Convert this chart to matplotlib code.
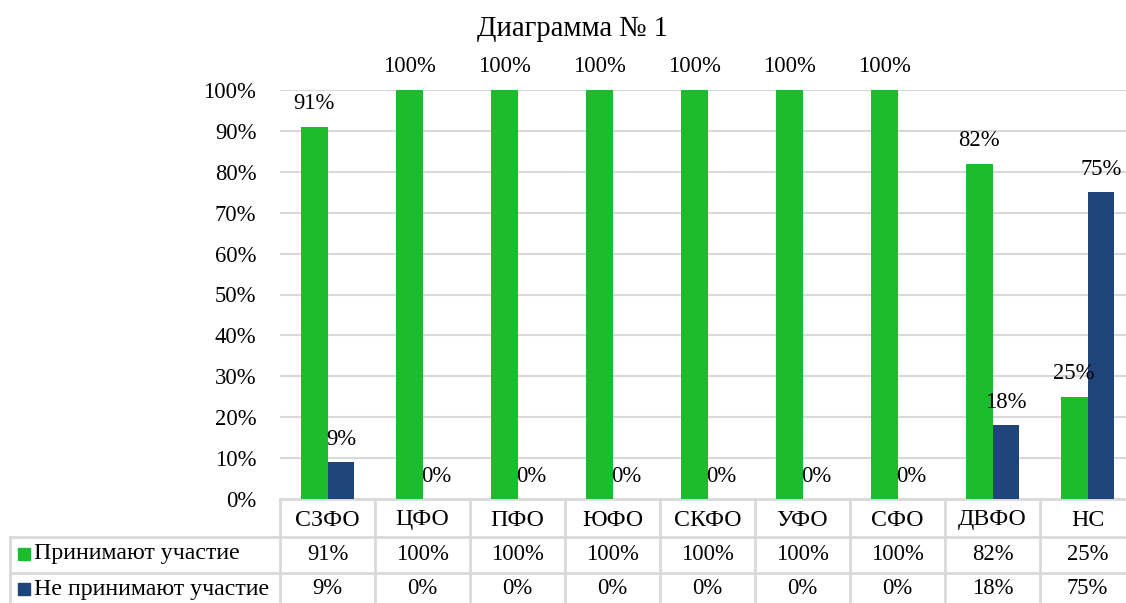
import matplotlib
matplotlib.use("Agg")
import matplotlib.pyplot as plt
import numpy as np

categories = ["СЗФО", "ЦФО", "ПФО", "ЮФО", "СКФО", "УФО", "СФО", "ДВФО", "НС"]
series_names = ["Принимают участие", "Не принимают участие"]
participate = [91, 100, 100, 100, 100, 100, 100, 82, 25]
not_participate = [9, 0, 0, 0, 0, 0, 0, 18, 75]
yticks = [0, 10, 20, 30, 40, 50, 60, 70, 80, 90, 100]
title = "Диаграмма № 1"

GREEN = "#1bbd2c"
BLUE = "#1f447a"
GRID = "#d9d9d9"
FONT = "Liberation Serif"
plt.rcParams["font.family"] = [FONT, "DejaVu Serif"]
FS_NUM = 16.3
FS_TXT = 17.2

W, H = 1126, 603
fig = plt.figure(figsize=(W / 100, H / 100), dpi=100)
left, right, top, bottom = 280, 1135, 90, 499
ax = fig.add_axes([left / W, 1 - bottom / H, (right - left) / W, (bottom - top) / H])

n = len(categories)
x = np.arange(n)
bw = 0.284
ax.bar(x - bw / 2, participate, width=bw, color=GREEN, zorder=3)
ax.bar(x + bw / 2, not_participate, width=bw, color=BLUE, zorder=3)
ax.set_xlim(-0.5, n - 0.5)
ax.set_ylim(0, 100)
ax.set_yticks(yticks)
ax.set_yticklabels([f"{t}%" for t in yticks], fontsize=FS_NUM)
ax.tick_params(axis="y", length=0, pad=17)
ax.set_xticks([])
for s in ax.spines.values():
    s.set_visible(False)
for t in yticks[1:]:
    ax.axhline(t, color=GRID, lw=1.5, zorder=1)

off = 23 / 409 * 100
for i in range(n):
    ax.text(x[i] - bw / 2, participate[i] + off, f"{participate[i]}%", ha="center", va="center",
            fontsize=FS_NUM, clip_on=False, zorder=4)
    ax.text(x[i] + bw / 2, not_participate[i] + off, f"{not_participate[i]}%", ha="center", va="center",
            fontsize=FS_NUM, clip_on=False, zorder=4)

fig.text(572 / W, 1 - 29 / H, title, ha="center", va="center", fontsize=20.6)

# data table below the axis, using x data / y axes-fraction transform
tr = ax.get_xaxis_transform()
ph = bottom - top
def yf(px):
    return -(px - bottom) / ph
y_hdr_bot = yf(537)
y_r1_bot = yf(573)
y_r2_bot = yf(608)
x_tab_left = -0.5 + (10 - left) / ((right - left) / n)
lkw = dict(color=GRID, lw=2, transform=tr, clip_on=False, zorder=2)
ax.plot([-0.5, n - 0.5], [0, 0], **lkw)
ax.plot([x_tab_left, n - 0.5], [y_hdr_bot, y_hdr_bot], **lkw)
ax.plot([x_tab_left, n - 0.5], [y_r1_bot, y_r1_bot], **lkw)
ax.plot([x_tab_left, n - 0.5], [y_r2_bot, y_r2_bot], **lkw)
ax.plot([x_tab_left, x_tab_left], [y_hdr_bot, y_r2_bot], **lkw)
for k in range(n + 1):
    ax.plot([k - 0.5, k - 0.5], [0, y_r2_bot], **lkw)

ymid_hdr = yf(520)
ymid_r1 = yf(554)
ymid_r2 = yf(589)
for i in range(n):
    ax.text(x[i], ymid_hdr, categories[i], ha="center", va="center", fontsize=FS_TXT, transform=tr, clip_on=False)
    ax.text(x[i], ymid_r1, f"{participate[i]}%", ha="center", va="center", fontsize=FS_NUM, transform=tr, clip_on=False)
    ax.text(x[i], ymid_r2, f"{not_participate[i]}%", ha="center", va="center", fontsize=FS_NUM, transform=tr, clip_on=False)

unit = (right - left) / n
xsq = -0.5 + (24 - left) / unit
xlab = -0.5 + (34 - left) / unit
for yy, col, name in [(ymid_r1, GREEN, series_names[0]), (ymid_r2, BLUE, series_names[1])]:
    ax.plot([xsq], [yy], marker="s", ms=9, color=col, transform=tr, clip_on=False, ls="none")
    ax.text(xlab, yy, name, ha="left", va="center", fontsize=FS_TXT, transform=tr, clip_on=False)

fig.savefig("out.png", dpi=100)
